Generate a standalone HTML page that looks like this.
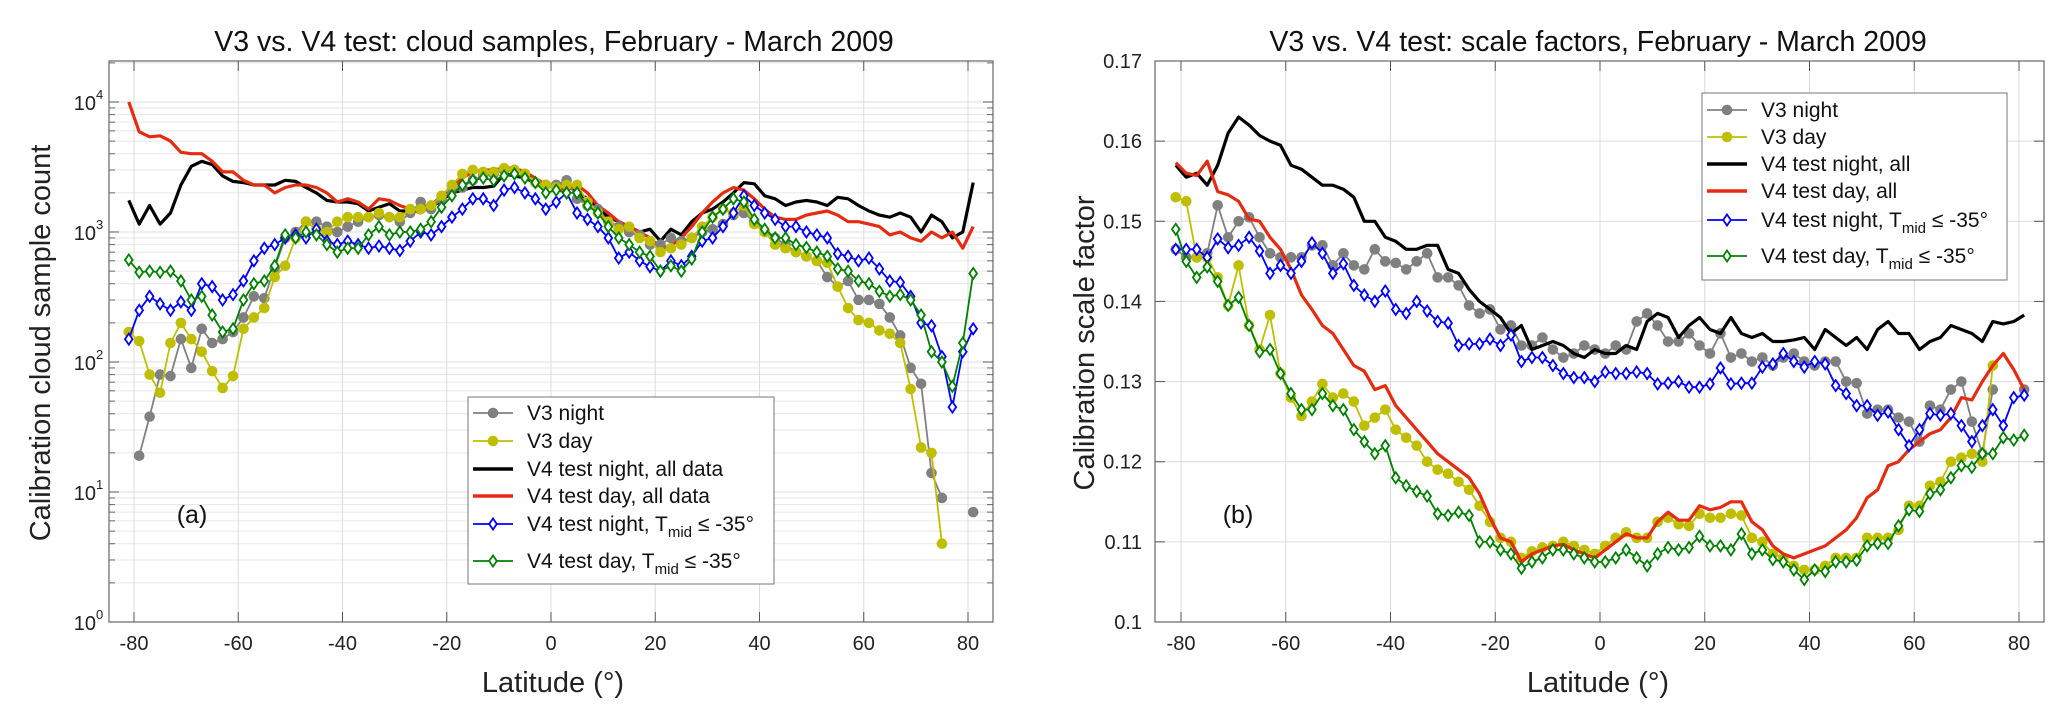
<!DOCTYPE html>
<html><head><meta charset="utf-8"><style>
html,body{margin:0;padding:0;background:#fff}
svg{display:block;font-family:"Liberation Sans",sans-serif}
</style></head><body>
<svg id="fig" width="2067" height="723" viewBox="0 0 2067 723" xmlns="http://www.w3.org/2000/svg">
<rect width="2067" height="723" fill="#fff"/>
<g id="A"></g>
<g id="B"></g>
</svg>
<script>
const lats=[];for(let l=-81;l<=81;l+=2)lats.push(l);
// Chart (a) cloud sample counts
const aV3night=[null,19,38,80,78,150,90,180,140,150,170,220,320,310,530,900,1000,1200,1200,1100,1000,1100,1200,1300,1350,1300,1200,1400,1700,1500,1800,2100,2200,2500,2700,2800,3000,3000,2800,2400,2300,2300,2500,1800,1600,1500,1200,1100,1000,950,800,800,900,850,900,1000,1050,1150,1350,1400,1200,1000,900,800,700,650,600,450,380,420,300,300,280,220,160,90,68,14,9,null,null,7];
const aV3day=[170,145,80,58,140,200,150,120,85,63,78,180,220,260,450,550,900,1200,1050,1000,1200,1300,1300,1300,1400,1300,1300,1500,1500,1600,1900,2300,2800,3000,2900,2900,3100,3000,2800,2400,2300,2200,2300,2300,1700,1400,1200,1050,1100,900,850,700,750,800,900,1100,1300,1500,1400,1600,1150,1000,800,750,700,650,600,580,380,260,210,200,175,165,140,62,22,20,4,null,null,null];
const aV4nightAll=[1750,1150,1600,1150,1400,2300,3200,3500,3300,2700,2450,2400,2300,2300,2300,2500,2450,2200,2000,1750,1700,1700,1650,1450,1550,1650,1450,1450,1600,1550,1750,2000,2100,2200,2200,2250,2800,2700,2600,2400,2300,2200,2400,2000,1800,1550,1300,1200,1100,1000,1050,850,1050,950,1200,1400,1500,1700,2000,2400,2350,1900,1800,1600,1700,1750,1700,1600,1850,1800,1600,1450,1350,1300,1400,1300,1000,1350,1200,900,1000,2400];
const aV4dayAll=[10000,5900,5400,5500,5000,4100,4000,4000,3500,2900,2900,2500,2300,2300,2000,2200,2300,2300,2200,2000,1700,1800,1700,1500,1800,1750,1600,1500,1400,1600,1900,2200,2600,2900,3000,3000,3100,3100,2900,2600,2300,2200,2100,2300,2000,1600,1400,1200,1100,1000,900,750,780,900,1100,1400,1700,2000,2200,2100,1800,1500,1300,1250,1250,1350,1400,1450,1350,1200,1200,1150,1100,950,1000,900,850,1000,900,1000,750,1100];
const aV4nightT=[150,250,320,280,250,290,250,400,380,300,330,420,600,750,800,900,950,900,1050,850,800,850,800,750,780,750,720,850,1000,950,1100,1300,1500,1800,1800,1600,2100,2200,2000,1800,1500,1700,2000,1400,1250,1100,900,630,700,600,540,500,600,550,650,850,900,1100,1400,1900,1600,1400,1250,1100,1100,1000,950,900,680,650,600,630,520,420,410,320,200,190,110,45,120,180];
const aV4dayT=[610,490,500,490,500,420,300,320,230,170,180,300,400,420,550,950,900,1000,950,800,700,750,750,950,1100,950,1000,1000,1050,1200,1550,1900,2300,2500,2600,2500,2700,2800,2600,2400,2000,2100,2000,2000,1600,1400,1100,900,800,700,650,500,550,500,620,1000,1300,1500,1800,1700,1250,1050,900,900,800,760,700,650,520,500,420,400,350,320,330,300,230,120,100,65,140,480];
const aXTicks=[-80,-60,-40,-20,0,20,40,60,80];
const aYTicks=[0,1,2,3,4];
// Chart (b) scale factors
const bV3night=[0.1465,0.1455,0.1455,0.146,0.152,0.148,0.150,0.1505,0.148,0.146,0.1455,0.1455,0.1455,0.147,0.147,0.1445,0.146,0.1445,0.144,0.1465,0.145,0.1448,0.144,0.145,0.146,0.143,0.143,0.142,0.1395,0.1385,0.139,0.1365,0.137,0.1345,0.1345,0.1355,0.134,0.133,0.1335,0.1345,0.134,0.1335,0.1345,0.134,0.1375,0.1385,0.137,0.135,0.135,0.136,0.1345,0.1335,0.136,0.133,0.1335,0.1325,0.133,0.132,0.133,0.1335,0.1325,0.132,0.1325,0.1325,0.130,0.1298,0.126,0.1265,0.1265,0.1255,0.125,0.1225,0.127,0.1265,0.129,0.130,0.125,0.121,0.129,null,null,0.129];
const bV3day=[0.153,0.1525,0.1455,0.1455,0.143,0.1395,0.1445,0.137,0.134,0.1383,0.131,0.128,0.1257,0.1275,0.1297,0.128,0.1285,0.1275,0.1245,0.1255,0.1265,0.124,0.123,0.122,0.120,0.119,0.1185,0.1175,0.1165,0.1145,0.1125,0.1105,0.110,0.108,0.1088,0.1093,0.1095,0.110,0.1095,0.109,0.1085,0.1095,0.1105,0.1112,0.1105,0.1105,0.1125,0.113,0.1122,0.112,0.1135,0.113,0.113,0.1135,0.1133,0.1105,0.110,0.1085,0.108,0.107,0.1065,0.1065,0.107,0.108,0.108,0.108,0.1105,0.1105,0.1105,0.1115,0.1145,0.1145,0.117,0.1175,0.120,0.1205,0.121,0.120,0.132,null,null,null];
const bV4nightAll=[0.157,0.1555,0.156,0.1545,0.157,0.161,0.163,0.162,0.1607,0.160,0.1595,0.157,0.1565,0.1555,0.1545,0.1545,0.154,0.153,0.150,0.150,0.148,0.1475,0.1465,0.1465,0.147,0.147,0.144,0.1435,0.1415,0.140,0.139,0.138,0.136,0.137,0.134,0.1345,0.135,0.1345,0.1335,0.133,0.134,0.1335,0.1335,0.1345,0.134,0.1375,0.1385,0.138,0.1355,0.137,0.138,0.1365,0.136,0.138,0.136,0.1355,0.136,0.135,0.135,0.1352,0.1355,0.134,0.1365,0.1355,0.1345,0.1355,0.134,0.1365,0.1375,0.136,0.136,0.134,0.135,0.1355,0.137,0.1365,0.136,0.135,0.1375,0.1372,0.1375,0.1383];
const bV4dayAll=[0.1573,0.156,0.1557,0.1575,0.1537,0.1533,0.1525,0.1503,0.150,0.148,0.1465,0.144,0.1408,0.139,0.137,0.136,0.134,0.132,0.1313,0.129,0.1295,0.127,0.1255,0.124,0.1225,0.121,0.120,0.119,0.118,0.116,0.113,0.1105,0.110,0.1075,0.1085,0.109,0.1095,0.1097,0.109,0.1085,0.108,0.109,0.110,0.111,0.1105,0.1105,0.1125,0.1137,0.1127,0.1127,0.1145,0.114,0.1143,0.115,0.115,0.1125,0.1115,0.1095,0.1085,0.108,0.1085,0.109,0.1095,0.1105,0.1115,0.113,0.1155,0.1165,0.1195,0.120,0.1215,0.1225,0.1235,0.124,0.1255,0.128,0.1277,0.130,0.132,0.1335,0.1315,0.129];
const bV4nightT=[0.1465,0.1465,0.1465,0.1455,0.1478,0.1467,0.147,0.148,0.1463,0.1435,0.1445,0.1435,0.145,0.1473,0.146,0.1435,0.1447,0.142,0.1408,0.140,0.1413,0.139,0.1385,0.140,0.1388,0.1375,0.1373,0.1345,0.1347,0.1347,0.1353,0.1345,0.1358,0.1325,0.133,0.133,0.132,0.131,0.1305,0.1305,0.130,0.1312,0.131,0.131,0.1312,0.131,0.1297,0.1298,0.130,0.1293,0.1293,0.1297,0.1317,0.1297,0.1298,0.1298,0.1318,0.1322,0.1335,0.1325,0.1318,0.1325,0.1322,0.1295,0.1285,0.127,0.127,0.1258,0.1262,0.124,0.122,0.124,0.126,0.1258,0.126,0.1245,0.1225,0.1245,0.1265,0.1245,0.128,0.1283];
const bV4dayT=[0.149,0.145,0.143,0.1443,0.1425,0.1395,0.1405,0.137,0.1337,0.134,0.131,0.1285,0.1265,0.1265,0.1285,0.127,0.1265,0.124,0.1225,0.121,0.122,0.118,0.117,0.1163,0.1157,0.1135,0.1133,0.1137,0.1133,0.110,0.110,0.109,0.1085,0.1067,0.1075,0.108,0.109,0.109,0.1085,0.108,0.1075,0.1075,0.108,0.109,0.108,0.107,0.1085,0.1093,0.109,0.1093,0.1107,0.1095,0.1095,0.109,0.111,0.1085,0.109,0.1078,0.1075,0.1065,0.1053,0.1065,0.1063,0.1075,0.1075,0.1077,0.1095,0.1098,0.1098,0.112,0.114,0.1138,0.116,0.1165,0.118,0.1195,0.1193,0.121,0.121,0.123,0.1227,0.1233];
const bXTicks=[-80,-60,-40,-20,0,20,40,60,80];
const bYTicks=[0.1,0.11,0.12,0.13,0.14,0.15,0.16,0.17];

const NS="http://www.w3.org/2000/svg";
function mk(p,tag,at){const e=document.createElementNS(NS,tag);for(const k in at)e.setAttribute(k,at[k]);p.appendChild(e);return e;}
const C={gray:"#808080",yel:"#bfbf00",blk:"#000",red:"#e52b10",blue:"#0000ff",grn:"#008000"};

function drawSeries(g,vals,xf,yf,color,kind,name){
  const sg=mk(g,"g",{});
  
  
  let d="",pen=false;
  vals.forEach((v,i)=>{if(v==null){pen=false;return;}const x=xf(lats[i]),y=yf(v);d+=(pen?"L":"M")+x.toFixed(1)+" "+y.toFixed(1);pen=true;});
  const lw=kind==="line"?3.2:1.8;
  const p=mk(sg,"path",{d:d,fill:"none",stroke:color,"stroke-width":lw,"stroke-linejoin":"round"});
  
  
  vals.forEach((v,i)=>{if(v==null)return;const x=xf(lats[i]),y=yf(v);
    if(kind==="circle"){const c=mk(sg,"circle",{cx:x,cy:y,r:5.3,fill:color});
      
      }
    else if(kind==="diamond"){const m=mk(sg,"path",{d:`M${x} ${y-5.5}L${x+3.8} ${y}L${x} ${y+5.5}L${x-3.8} ${y}Z`,fill:"#fff",stroke:color,"stroke-width":1.8});
      
      }
  });
}
function txt(g,x,y,s,at,name){const t=mk(g,"text",Object.assign({x:x,y:y},at));t.textContent=s;
  
  return t;}

function legend(g,x0,y0,w,h,rows,labels){
  const lg=mk(g,"g",{});
  
  
  mk(lg,"rect",{x:x0,y:y0,width:w,height:h,fill:"#fff",stroke:"#777","stroke-width":1});
  const items=[[C.gray,"circle"],[C.yel,"circle"],[C.blk,"line"],[C.red,"line"],[C.blue,"diamond"],[C.grn,"diamond"]];
  items.forEach((it,i)=>{
    const y=rows[i],x1=x0+5,x2=x0+45,xm=(x1+x2)/2;
    const e=mk(lg,"g",{});
    
    
    mk(e,"line",{x1:x1,y1:y,x2:x2,y2:y,stroke:it[0],"stroke-width":it[1]==="line"?3.5:1.8});
    if(it[1]==="circle")mk(e,"circle",{cx:xm,cy:y,r:5.3,fill:it[0]});
    if(it[1]==="diamond")mk(e,"path",{d:`M${xm} ${y-5.5}L${xm+3.8} ${y}L${xm} ${y+5.5}L${xm-3.8} ${y}Z`,fill:"#fff",stroke:it[0],"stroke-width":1.8});
    const t=mk(e,"text",{x:x0+59,y:y+7,"font-size":21,fill:"#111"});
    if(i<4){t.textContent=labels[i];}
    else{const pre=labels[i];t.textContent=pre+"T";const s=mk(t,"tspan",{"font-size":15,dy:6});s.textContent="mid";const s2=mk(t,"tspan",{dy:-6});s2.textContent=" \u2264 -35\u00b0";}
  });
}

// ---------- Chart A ----------
(function(){
  const g=document.getElementById("A");
  const L=109,R=993,T=61,B=622;
  const xf=v=>134+(v+80)*(968-134)/160;
  const yf=v=>622-Math.log10(v)*130;
  const yl=e=>622-e*130;
  const grid=mk(g,"g",{});
  
  
  for(let e=0;e<5;e++)for(let m=2;m<=9;m++){const y=yf(m*Math.pow(10,e));if(y<T)continue;
    mk(grid,"line",{x1:L,x2:R,y1:y,y2:y,stroke:"#e6e6e6","stroke-width":1});
    mk(grid,"line",{x1:L,x2:L+6,y1:y,y2:y,stroke:"#666","stroke-width":1});
    mk(grid,"line",{x1:R,x2:R-6,y1:y,y2:y,stroke:"#666","stroke-width":1});}
  aYTicks.forEach(e=>{const y=yl(e);mk(grid,"line",{x1:L,x2:R,y1:y,y2:y,stroke:"#dcdcdc","stroke-width":1});
    mk(grid,"line",{x1:L,x2:L+10,y1:y,y2:y,stroke:"#555"});mk(grid,"line",{x1:R,x2:R-10,y1:y,y2:y,stroke:"#555"});
    txt(g,96,y+8,"10",{"font-size":20,"text-anchor":"end",fill:"#222"},"y-tick-label");
    txt(g,96,y-3,String(e),{"font-size":13,fill:"#222"},"y-tick-exponent");});
  aXTicks.forEach(v=>{const x=xf(v);mk(grid,"line",{x1:x,x2:x,y1:T,y2:B,stroke:"#dcdcdc"});
    mk(grid,"line",{x1:x,x2:x,y1:B,y2:B-10,stroke:"#555"});mk(grid,"line",{x1:x,x2:x,y1:T,y2:T+10,stroke:"#555"});
    txt(g,x,650,String(v),{"font-size":20,"text-anchor":"middle",fill:"#222"},"x-tick-label");});
  const frame=mk(g,"rect",{x:L,y:T,width:R-L,height:B-T,fill:"none",stroke:"#666","stroke-width":1.2});
  
  
  drawSeries(g,aV4nightAll,xf,yf,C.blk,"line","v4-night-all");
  drawSeries(g,aV4dayAll,xf,yf,C.red,"line","v4-day-all");
  drawSeries(g,aV3night,xf,yf,C.gray,"circle","v3-night");
  drawSeries(g,aV3day,xf,yf,C.yel,"circle","v3-day");
  drawSeries(g,aV4nightT,xf,yf,C.blue,"diamond","v4-night-tmid");
  drawSeries(g,aV4dayT,xf,yf,C.grn,"diamond","v4-day-tmid");
  txt(g,554,51,"V3 vs. V4 test: cloud samples, February - March 2009",{"font-size":28.5,"text-anchor":"middle",fill:"#111"},"chart-title");
  txt(g,553,692,"Latitude (\u00b0)",{"font-size":29,"text-anchor":"middle",fill:"#222"},"x-axis-title");
  txt(g,0,0,"Calibration cloud sample count",{"font-size":29,"text-anchor":"middle",fill:"#222",transform:"translate(50 343) rotate(-90)"},"y-axis-title");
  txt(g,192,523,"(a)",{"font-size":25,"text-anchor":"middle",fill:"#111"},"panel-label");
  legend(g,468,397,306,187,[413,441,469,496,524,561],["V3 night","V3 day","V4 test night, all data","V4 test day, all data","V4 test night, ","V4 test day, "]);
})();

// ---------- Chart B ----------
(function(){
  const g=document.getElementById("B");
  const L=1155,R=2044,T=61,B=622;
  const xf=v=>1181+(v+80)*(2019-1181)/160;
  const yf=v=>622-(v-0.1)*(622-61)/0.07;
  const grid=mk(g,"g",{});
  
  
  bYTicks.forEach(v=>{const y=yf(v);mk(grid,"line",{x1:L,x2:R,y1:y,y2:y,stroke:"#dcdcdc"});
    mk(grid,"line",{x1:L,x2:L+10,y1:y,y2:y,stroke:"#555"});mk(grid,"line",{x1:R,x2:R-10,y1:y,y2:y,stroke:"#555"});
    txt(g,1142,y+7,v===0.1?"0.1":v.toFixed(2),{"font-size":20,"text-anchor":"end",fill:"#222"},"y-tick-label");});
  bXTicks.forEach(v=>{const x=xf(v);mk(grid,"line",{x1:x,x2:x,y1:T,y2:B,stroke:"#dcdcdc"});
    mk(grid,"line",{x1:x,x2:x,y1:B,y2:B-10,stroke:"#555"});mk(grid,"line",{x1:x,x2:x,y1:T,y2:T+10,stroke:"#555"});
    txt(g,x,650,String(v),{"font-size":20,"text-anchor":"middle",fill:"#222"},"x-tick-label");});
  const frame=mk(g,"rect",{x:L,y:T,width:R-L,height:B-T,fill:"none",stroke:"#666","stroke-width":1.2});
  
  
  drawSeries(g,bV3night,xf,yf,C.gray,"circle","v3-night");
  drawSeries(g,bV3day,xf,yf,C.yel,"circle","v3-day");
  drawSeries(g,bV4nightAll,xf,yf,C.blk,"line","v4-night-all");
  drawSeries(g,bV4dayAll,xf,yf,C.red,"line","v4-day-all");
  drawSeries(g,bV4nightT,xf,yf,C.blue,"diamond","v4-night-tmid");
  drawSeries(g,bV4dayT,xf,yf,C.grn,"diamond","v4-day-tmid");
  txt(g,1598,51,"V3 vs. V4 test: scale factors, February - March 2009",{"font-size":28.5,"text-anchor":"middle",fill:"#111"},"chart-title");
  txt(g,1598,692,"Latitude (\u00b0)",{"font-size":29,"text-anchor":"middle",fill:"#222"},"x-axis-title");
  txt(g,0,0,"Calibration scale factor",{"font-size":29,"text-anchor":"middle",fill:"#222",transform:"translate(1094 343) rotate(-90)"},"y-axis-title");
  txt(g,1238,523,"(b)",{"font-size":25,"text-anchor":"middle",fill:"#111"},"panel-label");
  legend(g,1702,93,305,187,[110,137,164,191,220,256],["V3 night","V3 day","V4 test night, all","V4 test day, all","V4 test night, ","V4 test day, "]);
})();
</script>
</body></html>
